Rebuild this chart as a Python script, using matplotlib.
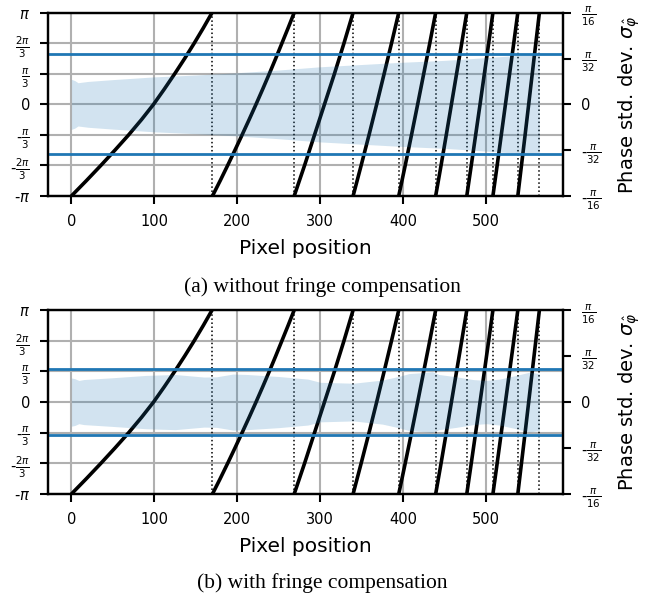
import numpy as np
import matplotlib.pyplot as plt

# wrapped phase segments: x (pixel) and phase (in units of pi)
phase_fine = [-1, -5/6, -2/3, -1/2, -1/3, -1/6, 0, 1/6, 1/3, 1/2, 2/3, 5/6, 1]
phase_coarse = [-1, -2/3, -1/3, 0, 1/3, 2/3, 1]
segments_x = [
    [0, 18, 35.5, 52.5, 69, 84.5, 99, 112, 124.5, 136.5, 148, 159, 169.5],
    [170, 179.3, 188.3, 197.1, 205.7, 214.2, 222.5, 230.6, 238.5, 246.2, 253.7, 261.2, 268.5],
    [268.5, 281, 293, 305, 317, 328.5, 339.5],
    [339.5, 349.2, 358.7, 367.9, 376.9, 385.8, 394.5],
    [394.5, 402.3, 409.9, 417.3, 424.6, 431.9, 439],
    [439, 445.5, 451.8, 458, 464.2, 470.4, 476.5],
    [476.5, 481.9, 487.2, 492.5, 497.7, 502.9, 508],
    [508, 513.1, 518.1, 523.1, 528.1, 533.1, 538],
    [538, 542.4, 546.8, 551.1, 555.4, 559.7, 564],
]
segments_phase = [phase_fine, phase_fine] + [phase_coarse] * 7
wrap_x = [170, 268.5, 339.5, 394.5, 439, 476.5, 508, 538, 564]

# phase std. dev., in units of pi/16
sigma_x_a = [0, 4, 8, 20, 50, 100, 150, 200, 250, 300, 350, 400, 450, 500, 540, 564]
sigma_a = [0.273, 0.26, 0.236, 0.25, 0.27, 0.30, 0.32, 0.345, 0.375, 0.41, 0.435, 0.46, 0.48, 0.51, 0.535, 0.548]
sigma_x_b = [0, 4, 9, 15, 50, 90, 125, 160, 175, 195, 212, 250, 285, 300, 340, 375,
             395, 407, 423, 435, 443, 464, 484, 500, 516, 536, 552, 560, 564]
sigma_b = [0.262, 0.255, 0.235, 0.245, 0.265, 0.29, 0.30, 0.272, 0.275, 0.305, 0.30, 0.278, 0.25, 0.215,
           0.205, 0.24, 0.28, 0.31, 0.32, 0.33, 0.30, 0.275, 0.245, 0.235, 0.25, 0.29, 0.325, 0.315, 0.31]
sigma_max = [0.546, 0.357]

captions = ['(a) without fringe compensation', '(b) with fringe compensation']

left_ticks = np.array([-1, -2/3, -1/3, 0, 1/3, 2/3, 1]) * np.pi
left_labels = [r'-$\pi$', r'-$\frac{2\pi}{3}$', r'-$\frac{\pi}{3}$', '0',
               r'$\frac{\pi}{3}$', r'$\frac{2\pi}{3}$', r'$\pi$']
right_ticks = np.array([-1/16, -1/32, 0, 1/32, 1/16]) * np.pi
right_labels = [r'-$\frac{\pi}{16}$', r'-$\frac{\pi}{32}$', '0', r'$\frac{\pi}{32}$', r'$\frac{\pi}{16}$']

fig = plt.figure(figsize=(6.6, 5.97), dpi=100)
positions = [[0.0727, 0.6717, 0.780, 0.307], [0.0727, 0.1725, 0.780, 0.308]]
sig_x = [sigma_x_a, sigma_x_b]
sig_y = [sigma_a, sigma_b]
cap_y = [0.519, 0.0235]

for i in range(2):
    ax = fig.add_axes(positions[i])
    for xs, ph in zip(segments_x, segments_phase):
        ax.plot(xs, np.array(ph) * np.pi, color='black', lw=2.6, solid_capstyle='butt')
    for xw in wrap_x:
        ax.plot([xw, xw], [-np.pi, np.pi], color='black', lw=1.1, ls=':')
    ax.set_ylim(-np.pi, np.pi)
    ax.set_xlim(-28.2, 592.2)
    ax.set_xticks([0, 100, 200, 300, 400, 500])
    ax.set_yticks(left_ticks)
    ax.set_yticklabels(left_labels)
    ax.grid(True, color='#b0b0b0', lw=1.5)
    ax.tick_params(labelsize=10.5, width=1.5, length=6, pad=7)
    ax.set_xlabel('Pixel position', fontsize=14.5, labelpad=7)
    for s in ax.spines.values():
        s.set_linewidth(1.6)

    ax2 = ax.twinx()
    sx = np.array(sig_x[i])
    sy = np.array(sig_y[i]) * np.pi / 16
    ax2.fill_between(sx, -sy, sy, color='C0', alpha=0.2, lw=0)
    ax2.axhline(sigma_max[i] * np.pi / 16, color='C0', lw=2)
    ax2.axhline(-sigma_max[i] * np.pi / 16, color='C0', lw=2)
    ax2.set_ylim(-np.pi / 16, np.pi / 16)
    ax2.set_yticks(right_ticks)
    ax2.set_yticklabels(right_labels)
    ax2.tick_params(labelsize=10.5, width=1.5, length=6, pad=7)
    ax2.set_ylabel(r'Phase std. dev. $\sigma_{\hat{\varphi}}$', fontsize=14, labelpad=11)
    for s in ax2.spines.values():
        s.set_linewidth(1.6)

    fig.text(0.488, cap_y[i], captions[i], ha='center', va='center',
             family='Liberation Serif', fontsize=15.5)

fig.savefig('out.png', dpi=100)
